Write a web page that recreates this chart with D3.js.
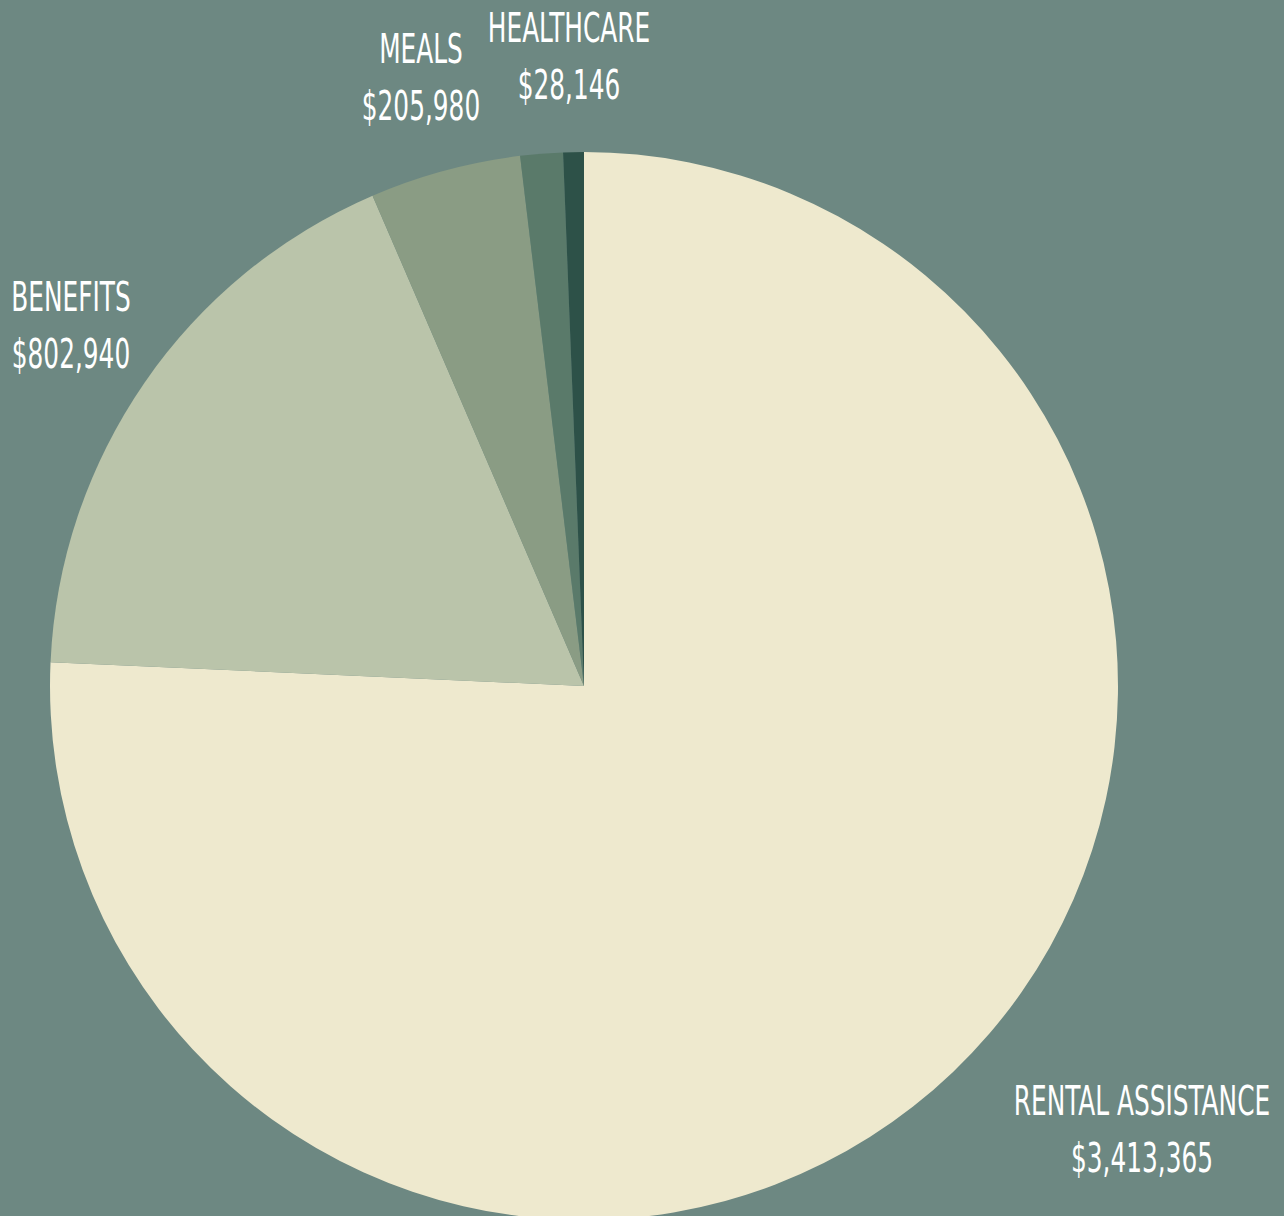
<!DOCTYPE html>
<html>
<head>
<meta charset="utf-8">
<script src="https://cdn.jsdelivr.net/npm/d3@7"></script>
<style>
  html, body { margin: 0; padding: 0; background: #6d8882; }
  svg { display: block; }
  .lbl { font-family: "Liberation Sans Narrow", "DejaVu Sans Condensed", sans-serif; fill: #ffffff; }
</style>
</head>
<body>
<div id="chart"></div>
<script>
// chart data
var categories = ["Rental Assistance", "Benefits", "Meals", "Other", "Healthcare"];
var amounts = [3413365, 802940, 205980, 58000, 28146];
var showLabel = [true, true, true, false, true];
var colors = ["#eee9ce", "#bac4aa", "#8a9c84", "#5a7a6a", "#2d5148"];

// where each label sits (centre x, baseline of first line)
var labelSpots = [[1142, 1115], [71, 311], [421, 63], [0, 0], [569, 42]];

var svgWidth = 1284;
var svgHeight = 1216;

var svg = d3.select("#chart")
  .append("svg")
    .attr("width", svgWidth)
    .attr("height", svgHeight);

svg.append("rect")
    .attr("width", svgWidth)
    .attr("height", svgHeight)
    .attr("fill", "#6d8882");

var data = categories.map((c, i) => ({ name: c, value: amounts[i], color: colors[i], show: showLabel[i], spot: labelSpots[i] }));

var radius = 534;
var cx = 584, cy = 686;

var pie = d3.pie()
    .sort(null)
    .value(d => d.value);

var arc = d3.arc()
    .innerRadius(0)
    .outerRadius(radius);

var g = svg.append("g")
    .attr("transform", `translate(${cx},${cy})`);

g.selectAll("path").data(pie(data))
  .enter().append("path")
    .attr("d", arc)
    .attr("fill", d => d.data.color);

// labels - condensed look via horizontal squeeze
var fmt = d3.format("$,");
var squeeze = 0.69;
var fontSize = 40;

var labels = svg.selectAll(".lblg").data(data.filter(d => d.show))
  .enter().append("g")
    .attr("transform", d => `translate(${d.spot[0]},${d.spot[1]}) scale(${squeeze},1)`);

labels.append("text")
    .attr("class", "lbl")
    .attr("text-anchor", "middle")
    .attr("font-size", fontSize)
    .text(d => d.name.toUpperCase());

labels.append("text")
    .attr("class", "lbl")
    .attr("text-anchor", "middle")
    .attr("font-size", fontSize)
    .attr("y", 57)
    .text(d => fmt(d.value));
</script>
</body>
</html>
